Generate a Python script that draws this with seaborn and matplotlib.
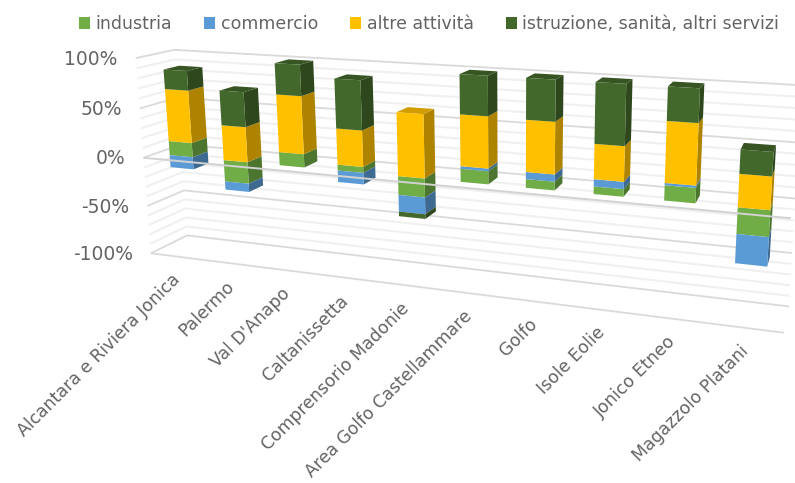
"""
Stacked 100% bars by district, drawn in the 3D look of a spreadsheet chart.
Seaborn draws the front faces, a camera fitted on the frame corners projects them.
"""

import numpy as np
import pandas as pd
import matplotlib
matplotlib.use('Agg')
import matplotlib.pyplot as plt
import seaborn as sns
from matplotlib.patches import Patch, Polygon
from matplotlib.transforms import Affine2D, Transform

categories = ['Alcantara e Riviera Jonica', 'Palermo', "Val D'Anapo", 'Caltanissetta',
              'Comprensorio Madonie', 'Area Golfo Castellammare', 'Golfo', 'Isole Eolie',
              'Jonico Etneo', 'Magazzolo Platani']
industria = [14.5, -21.8, 13.1, 5.8, -18.3, 12.3, 8.1, 6.9, 13.7, -23.6]
commercio = [-12.5, -8.4, 0.0, -11.3, -16.3, 2.5, 6.6, 6.6, 2.0, -26.2]
altre = [53.0, 35.2, 56.7, 35.2, 60.9, 48.3, 47.8, 31.9, 54.5, 29.2]
istruzione = [19.6, 34.6, 30.2, 47.7, -4.5, 36.9, 37.6, 54.6, 29.7, 21.0]
series_names = ['industria', 'commercio', 'altre attività', 'istruzione, sanità, altri servizi']
series_values = [industria, commercio, altre, istruzione]
colors = ['#70AD47', '#5B9BD5', '#FFC000', '#43682B']
axis_ticks = [100, 50, 0, -50, -100]

WIDTH, HEIGHT = 795, 483
BAR_WIDTH = 0.43
D_FRONT, D_BACK = 0.29, 0.71
TEXT_COLOR = '#646464'

# frame corners and a few bar corners: (category, value, depth) -> picture pixel
anchors = [
    (-0.5, 100, 0, 135, 58), (-0.5, 0, 0, 143, 157), (-0.5, -100, 0, 151, 252),
    (-0.5, 100, 1, 174, 50), (-0.5, -100, 1, 187, 235),
    (9.5, -100, 0, 782, 333), (9.5, 0, 0, 790, 218),
    (9.5, -100, 1, 790, 307), (9.5, 100, 1, 800, 84),
    (-0.215, 87.1, D_FRONT, 164, 71), (-0.215, -12.5, D_FRONT, 171, 168),
    (3.785, 60.9, D_FRONT, 397, 113), (3.785, -39.1, D_FRONT, 399, 217),
    (4.785, 100, D_FRONT, 459, 73), (4.785, 0, D_FRONT, 460, 182),
    (6.785, 100, D_FRONT, 597, 82), (6.785, 0, D_FRONT, 594, 193),
    (8.785, 50.2, D_FRONT, 743, 150), (8.785, -49.8, D_FRONT, 736, 264),
]


def fit_camera(points):
    rows = []
    for x, v, d, px, py in points:
        w = np.array([x, v / 100, d, 1.0])
        rows.append(np.r_[w, np.zeros(4), -px / 100 * w])
        rows.append(np.r_[np.zeros(4), w, -py / 100 * w])
    return np.linalg.svd(np.array(rows))[2][-1].reshape(3, 4)


camera = fit_camera(anchors)


def project(x, v, d):
    """World point(s) to picture pixels, y going down."""
    x, v, d = np.broadcast_arrays(x, v, d)
    w = np.stack([x, v / 100, d, np.ones_like(x, dtype=float)], axis=-1)
    uvw = w @ camera.T
    return 100 * uvw[..., :2] / uvw[..., 2:3]


class FrontFace(Transform):
    """Bar coordinates to display pixels on the plane of the bar fronts."""
    input_dims = 2
    output_dims = 2

    def transform_non_affine(self, values):
        values = np.asarray(values, dtype=float)
        xy = project(values[:, 0], values[:, 1], D_FRONT)
        return np.c_[xy[:, 0], HEIGHT - xy[:, 1]]


screen = Affine2D().scale(1, -1).translate(0, HEIGHT)

sns.set_theme(style='white')
plt.rcParams['font.family'] = ['DejaVu Sans']

fig = plt.figure(figsize=(WIDTH / 100, HEIGHT / 100), dpi=100)
ax = fig.add_axes([0, 0, 1, 1])
ax.set_axis_off()

# stacked bars, positive and negative parts pile up separately
pos = np.zeros(len(categories))
neg = np.zeros(len(categories))
for name, values, color in zip(series_names, series_values, colors):
    values = np.array(values)
    bottoms = np.where(values >= 0, pos, neg)
    df = pd.DataFrame({'area': categories, 'share': values})
    sns.barplot(data=df, x='area', y='share', bottom=bottoms, color=color, saturation=1,
                width=BAR_WIDTH, errorbar=None, linewidth=0, ax=ax)
    pos += np.where(values >= 0, values, 0)
    neg += np.where(values < 0, values, 0)
ax.set_axis_off()
ax.set_xlim(-0.5, 9.5)
ax.set_ylim(-100, 100)


def line3d(x, v, d, color, lw, zorder=1):
    xy = project(np.array(x, dtype=float), np.array(v, dtype=float), np.array(d, dtype=float))
    ax.plot(xy[:, 0], xy[:, 1], color=color, lw=lw, zorder=zorder, transform=screen,
            clip_on=False, solid_capstyle='butt')


# back and left walls
for v in range(-100, 101, 10):
    major = v % 50 == 0
    color, lw = ('#DADADA', 1.3) if major else ('#F0F0F0', 1.5)
    line3d([-0.5, -0.5, 9.5], [v, v, v], [0, 1, 1], color, lw)
line3d([-0.5, 9.5], [-100, -100], [0, 0], '#DADADA', 1.3)

# side and top faces around the seaborn rectangles
front = FrontFace()
for k, rect in enumerate(ax.patches):
    color = colors[k // len(categories)]
    rgb = np.array(matplotlib.colors.to_rgb(color))
    x0 = rect.get_x()
    x1 = x0 + rect.get_width()
    v0 = rect.get_y()
    v1 = v0 + rect.get_height()
    rect.set_transform(front)
    rect.set_clip_on(False)
    rect.set_zorder(3)
    rect.set_linewidth(0)
    if rect.get_height() == 0:
        continue
    side = project([x1, x1, x1, x1], [v0, v1, v1, v0], [D_FRONT, D_FRONT, D_BACK, D_BACK])
    ax.add_patch(Polygon(side, closed=True, fc=rgb * 0.68, ec='none', transform=screen,
                         clip_on=False, zorder=2))
    top_value = max(v0, v1)
    i = k % len(categories)
    if np.isclose(top_value, pos[i]):
        top = project([x0, x1, x1, x0], [top_value] * 4, [D_FRONT, D_FRONT, D_BACK, D_BACK])
        ax.add_patch(Polygon(top, closed=True, fc=rgb * 0.82, ec='none', transform=screen,
                             clip_on=False, zorder=2.5))

# zero plane edge runs in front of the bars
line3d([-0.5, 9.5], [0, 0], [0, 0], '#D2D2D2', 1.4, zorder=4)

for v in axis_ticks:
    px, py = project(-0.5, float(v), 0.0)
    ax.text(px - 18, py + 1, f'{v}%', ha='right', va='center', fontsize=13.5,
            color=TEXT_COLOR, transform=screen, clip_on=False)

for i, name in enumerate(categories):
    px, py = project(float(i), -100.0, 0.0)
    ax.text(px - 6, py + 14, name, rotation=45, rotation_mode='anchor', ha='right', va='top',
            fontsize=12.4, color=TEXT_COLOR, transform=screen, clip_on=False)

handles = [Patch(fc=c, ec='none', label=n) for c, n in zip(colors, series_names)]
fig.legend(handles=handles, ncol=4, frameon=False, loc='center', bbox_to_anchor=(429 / WIDTH, 1 - 24 / HEIGHT),
           fontsize=12.5, handlelength=0.65, handleheight=0.65, handletextpad=0.3,
           columnspacing=1.85, labelcolor=TEXT_COLOR, borderpad=0)

fig.savefig('out.png', dpi=100)
